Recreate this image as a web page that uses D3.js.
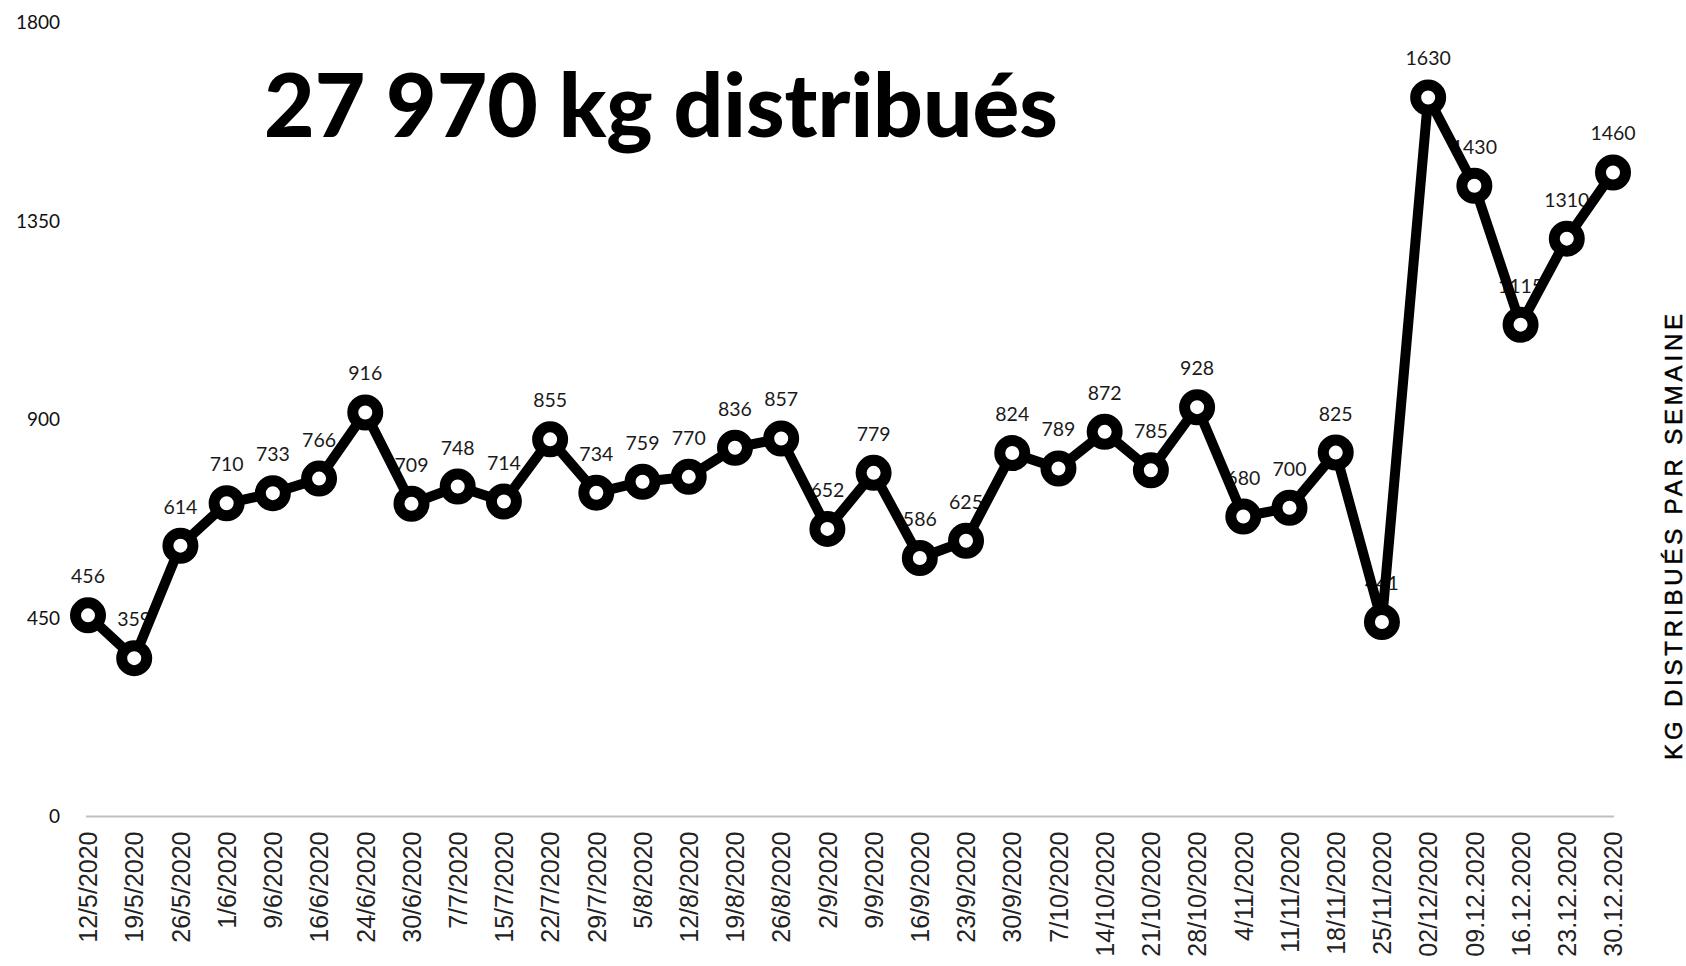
<!DOCTYPE html>
<html>
<head>
<meta charset="utf-8">
<script src="https://cdn.jsdelivr.net/npm/d3@7"></script>
<style>
    html, body { margin: 0; padding: 0; background: #fff; }
    svg { display: block; }
</style>
</head>
<body>
<div id="chart"></div>
<script>
// Weekly distributed kg
const weeks = ['12/5/2020', '19/5/2020', '26/5/2020', '1/6/2020', '9/6/2020', '16/6/2020', '24/6/2020',
    '30/6/2020', '7/7/2020', '15/7/2020', '22/7/2020', '29/7/2020', '5/8/2020', '12/8/2020', '19/8/2020',
    '26/8/2020', '2/9/2020', '9/9/2020', '16/9/2020', '23/9/2020', '30/9/2020', '7/10/2020', '14/10/2020',
    '21/10/2020', '28/10/2020', '4/11/2020', '11/11/2020', '18/11/2020', '25/11/2020', '02/12/2020',
    '09.12.2020', '16.12.2020', '23.12.2020', '30.12.2020'];
const kg = [456, 359, 614, 710, 733, 766, 916, 709, 748, 714, 855, 734, 759, 770, 836, 857, 652, 779,
    586, 625, 824, 789, 872, 785, 928, 680, 700, 825, 441, 1630, 1430, 1115, 1310, 1460];
const y_ticks = [0, 450, 900, 1350, 1800];
const title_text = '27 970 kg distribués';
const axis_title = 'KG DISTRIBUÉS PAR SEMAINE';

const width = 1686, height = 966;
const label_font = 'Lato, "Open Sans", sans-serif';

let svg = d3.select('#chart').append('svg')
    .attr('width', width)
    .attr('height', height);

let x_scale = d3.scalePoint()
    .domain(weeks)
    .range([88, 1613])
    .padding(0);

let y_scale = d3.scaleLinear()
    .domain([0, 1800])
    .range([816.5, 22.5]);

// Y axis - labels only
let y_axis = svg.append('g')
    .attr('transform', 'translate(60, 0)')
    .call(d3.axisLeft(y_scale).tickValues(y_ticks).tickFormat(d3.format('d')).tickSize(0).tickPadding(0));
y_axis.select('.domain').remove();
y_axis.selectAll('text')
    .style('font-family', label_font)
    .style('font-size', '19px')
    .attr('fill', '#111');

// X axis
let x_axis = svg.append('g')
    .attr('transform', 'translate(0, ' + y_scale(0) + ')')
    .call(d3.axisBottom(x_scale).tickSize(0).tickPadding(0));
x_axis.select('.domain')
    .attr('d', 'M86,0H1614')
    .attr('stroke', '#bfbfbf')
    .attr('stroke-width', 2);
x_axis.selectAll('text')
    .attr('transform', 'rotate(-90)')
    .attr('x', -15)
    .attr('y', 0)
    .attr('dy', '0.35em')
    .style('text-anchor', 'end')
    .style('font-family', '"Liberation Sans", Arial, sans-serif')
    .style('font-size', '25px')
    .attr('fill', '#222');

// Data labels (drawn under the line)
svg.append('g')
    .selectAll('text')
    .data(kg)
    .join('text')
    .attr('x', (d, i) => x_scale(weeks[i]))
    .attr('y', d => y_scale(d) - 32)
    .attr('text-anchor', 'middle')
    .style('font-family', label_font)
    .style('font-size', '19.5px')
    .attr('fill', '#1a1a1a')
    .text(d => d);

// Line
const line = d3.line()
    .x((d, i) => x_scale(weeks[i]))
    .y(d => y_scale(d));

svg.append('path')
    .datum(kg)
    .attr('d', line)
    .attr('fill', 'none')
    .attr('stroke', '#000')
    .attr('stroke-width', 10)
    .attr('stroke-linejoin', 'round');

// Markers
svg.append('g')
    .selectAll('circle')
    .data(kg)
    .join('circle')
    .attr('cx', (d, i) => x_scale(weeks[i]))
    .attr('cy', d => y_scale(d))
    .attr('r', 12.5)
    .attr('fill', '#fff')
    .attr('stroke', '#000')
    .attr('stroke-width', 11);

// Big title
let title = svg.append('text')
    .attr('x', 264)
    .attr('y', 137)
    .style('font-family', label_font)
    .style('font-weight', 900)
    .style('font-size', '88px')
    .attr('fill', '#000')
    .text(title_text);
const title_w = title.node().getComputedTextLength();
title.style('font-size', (88 * 794 / title_w) + 'px');

// Right axis title
let side = svg.append('text')
    .attr('transform', 'translate(1682, 535) rotate(-90)')
    .attr('text-anchor', 'middle')
    .style('font-family', '"Liberation Sans", Arial, sans-serif')
    .style('font-size', '24px')
    .attr('fill', '#000')
    .attr('stroke', '#000')
    .attr('stroke-width', 0.5)
    .text(axis_title);
const side_w = side.node().getComputedTextLength();
side.style('letter-spacing', ((446 - side_w) / (axis_title.length - 1)) + 'px');
</script>
</body>
</html>
